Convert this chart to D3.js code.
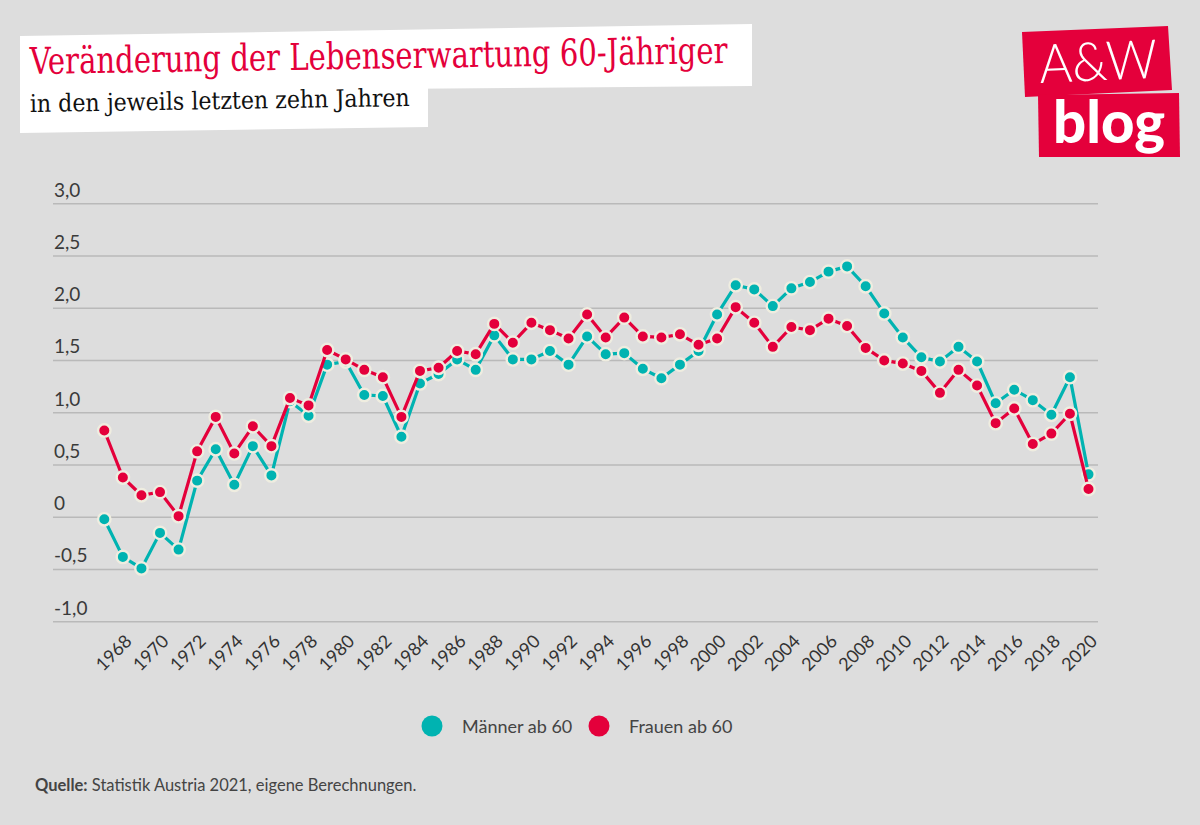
<!DOCTYPE html>
<html><head><meta charset="utf-8">
<script src="https://cdn.jsdelivr.net/npm/d3@7"></script>
<style>
html,body{margin:0;padding:0;background:#dddddd;}
svg{display:block;}
</style></head>
<body>
<script>
const years = [1967,1968,1969,1970,1971,1972,1973,1974,1975,1976,1977,1978,1979,1980,1981,1982,1983,1984,1985,1986,1987,1988,1989,1990,1991,1992,1993,1994,1995,1996,1997,1998,1999,2000,2001,2002,2003,2004,2005,2006,2007,2008,2009,2010,2011,2012,2013,2014,2015,2016,2017,2018,2019,2020];
const maenner = [-0.02,-0.38,-0.49,-0.15,-0.31,0.35,0.65,0.31,0.68,0.40,
  1.11,0.97,1.46,1.49,1.17,1.16,0.77,1.28,1.37,1.51,
  1.41,1.74,1.51,1.51,1.59,1.46,1.73,1.56,1.57,1.42,
  1.33,1.46,1.59,1.94,2.22,2.18,2.02,2.19,2.25,2.35,
  2.40,2.21,1.95,1.72,1.53,1.49,1.63,1.49,1.09,1.22,
  1.12,0.98,1.34,0.41];
const frauen = [0.83,0.38,0.21,0.24,0.01,0.63,0.96,0.61,0.87,0.68,
  1.14,1.07,1.60,1.51,1.41,1.34,0.96,1.40,1.43,1.59,
  1.56,1.85,1.67,1.86,1.79,1.71,1.94,1.72,1.91,1.73,
  1.72,1.75,1.65,1.71,2.01,1.86,1.63,1.82,1.79,1.90,
  1.83,1.62,1.50,1.47,1.40,1.19,1.41,1.26,0.90,1.04,
  0.70,0.80,0.99,0.27];
const yTicks = [-1.0,-0.5,0,0.5,1.0,1.5,2.0,2.5,3.0];
const xTickYears = [1968,1970,1972,1974,1976,1978,1980,1982,1984,1986,1988,1990,1992,1994,1996,1998,2000,2002,2004,2006,2008,2010,2012,2014,2016,2018,2020];
const seriesNames = ["Männer ab 60","Frauen ab 60"];
const titleText = "Veränderung der Lebenserwartung 60-Jähriger";
const subtitleText = "in den jeweils letzten zehn Jahren";
const sourceBold = "Quelle:";
const sourceText = " Statistik Austria 2021, eigene Berechnungen.";

const W = 1200, H = 825;
const TEAL = "#00b3b1", RED = "#e4003b", CREAM = "#efede0";
const sansFont = "Lato, 'Open Sans', sans-serif";

const svg = d3.select("body").append("svg").attr("width", W).attr("height", H);
svg.append("rect").attr("width", W).attr("height", H).attr("fill", "#dddddd");

function fit(sel, w){
  const len = sel.node().getComputedTextLength();
  const fs = parseFloat(sel.attr("font-size"));
  sel.attr("font-size", fs * w / len);
}
// squeeze horizontally to a target width, keeping the font size
function squeeze(g, sel, w, tx, ty, rot){
  const len = sel.node().getComputedTextLength();
  g.attr("transform", `translate(${tx},${ty}) rotate(${rot}) scale(${w/len},1)`);
}

// Title boxes
const tg = svg.append("g");
tg.append("polygon").attr("points","20,36 752,24 752,86 20,92").attr("fill","#fff");
tg.append("polygon").attr("points","20,88 428,84 428,127 20,133").attr("fill","#fff");
const serif = "'DejaVu Serif Condensed','DejaVu Serif',serif";
const g1 = tg.append("g");
const t1 = g1.append("text").attr("fill",RED).attr("font-family",serif).attr("font-size",37).text(titleText);
squeeze(g1, t1, 698, 30, 74, -0.9);
const g2 = tg.append("g");
const t2 = g2.append("text").attr("fill","#111").attr("font-family",serif).attr("font-size",24.5).text(subtitleText);
squeeze(g2, t2, 380, 30, 112, -0.9);

// Logo
const lg = svg.append("g");
lg.append("polygon").attr("points","1022,32 1168,26 1172,90 1025,97").attr("fill",RED);
lg.append("polygon").attr("points","1038,95 1179,93 1180,157 1039,157").attr("fill",RED);
const la = lg.append("g");
const a = la.append("text").attr("fill","#fff")
  .attr("font-family",sansFont).attr("font-weight",300).attr("font-size",54).text("A&W");
squeeze(la, a, 118, 1040, 83, -2.5);
const b = lg.append("text").attr("x",1053).attr("y",143).attr("fill","#fff")
  .attr("font-family",sansFont).attr("font-weight",900).attr("font-size",50).text("blog");
fit(b, 112);

// Scales
const x = d3.scaleLinear().domain([1967,2020]).range([104.3,1088.5]);
const y = d3.scaleLinear().domain([-1,3]).range([621.7,203.7]);

// Grid
const grid = svg.append("g");
grid.selectAll("line").data(yTicks).join("line")
  .attr("x1",53).attr("x2",1098)
  .attr("y1",d=>y(d)).attr("y2",d=>y(d))
  .attr("stroke","#b9b9b9").attr("stroke-width",1.6);
const fmt = d => d === 0 ? "0" : d3.format(".1f")(d).replace(".", ",").replace("\u2212", "-");
grid.selectAll("text").data(yTicks).join("text")
  .attr("x",54).attr("y",d=>y(d)-7)
  .attr("font-family",sansFont).attr("font-size",19).attr("fill","#3a3a3a")
  .text(fmt);

// X axis labels
const xa = svg.append("g").attr("transform","translate(0,630)")
  .call(d3.axisBottom(x).tickValues(xTickYears).tickFormat(d3.format("d")).tickSize(0));
xa.select(".domain").remove();
xa.selectAll(".tick text")
  .attr("font-family",sansFont).attr("font-size",18).attr("fill","#333")
  .attr("text-anchor","end").attr("x",0).attr("y",0).attr("dx",0).attr("dy","0.35em")
  .attr("transform","translate(5,8) rotate(-45)");

// Series
const series = [
  {name: seriesNames[0], values: maenner, color: TEAL},
  {name: seriesNames[1], values: frauen, color: RED}
];
const line = d3.line().x((d,i)=>x(years[i])).y(d=>y(d));
series.forEach(s => {
  const g = svg.append("g");
  g.append("path").datum(s.values).attr("d", line)
    .attr("fill","none").attr("stroke",s.color).attr("stroke-width",3.2)
    .attr("stroke-linejoin","round");
  g.selectAll("circle").data(s.values).join("circle")
    .attr("cx",(d,i)=>x(years[i])).attr("cy",d=>y(d)).attr("r",6.2)
    .attr("fill",s.color).attr("stroke",CREAM).attr("stroke-width",2.4);
});

// Legend
const leg = svg.append("g");
const legX = [432, 599];
series.forEach((s,i) => {
  leg.append("circle").attr("cx",legX[i]).attr("cy",726).attr("r",10.5).attr("fill",s.color);
  leg.append("text").attr("x",legX[i]+30).attr("y",732.5)
    .attr("font-family",sansFont).attr("font-size",18).attr("fill","#444").text(s.name);
});

// Source
const src = svg.append("text").attr("x",35).attr("y",791)
  .attr("font-family",sansFont).attr("font-size",16.5).attr("fill","#444");
src.append("tspan").attr("font-weight",700).text(sourceBold);
src.append("tspan").text(sourceText);
</script>
</body></html>
